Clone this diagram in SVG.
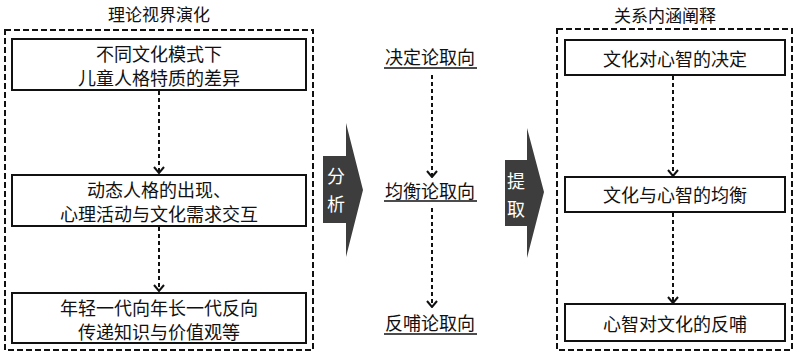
<svg xmlns="http://www.w3.org/2000/svg" width="798" height="355" viewBox="0 0 798 355">
<defs>
<style>
text{font-family:"Noto Sans CJK SC","Noto Sans",sans-serif;font-size:18px;fill:#111;text-anchor:middle;dominant-baseline:central}
text.t{font-size:17px}
.frame{fill:none;stroke:#111;stroke-width:2;stroke-dasharray:6 3}
.box{fill:#fff;stroke:#111;stroke-width:2}
.link{fill:none;stroke:#111;stroke-width:2;stroke-dasharray:4 3;marker-end:url(#chev)}
.uline{stroke:#111;stroke-width:1.5}
.big{fill:#3d3d3d}
text.w{fill:#fff}
</style>
<marker id="chev" viewBox="0 0 8 12" refX="7" refY="6" markerWidth="8" markerHeight="12" markerUnits="userSpaceOnUse" orient="auto">
<path d="M1,1 L7,6 L1,11" fill="none" stroke="#111" stroke-width="2" stroke-dasharray="none"/>
</marker>
</defs>
<rect width="798" height="355" fill="#fff"/>

<g id="left-panel">
<text class="t" x="159" y="13">理论视界演化</text>
<rect class="frame" x="5" y="30" width="308" height="320"/>
</g>
<g id="node-l1">
<rect class="box" x="12" y="39" width="294" height="51"/>
<text x="159" y="53">不同文化模式下</text>
<text x="159" y="77">儿童人格特质的差异</text>
</g>
<g id="node-l2">
<rect class="box" x="12" y="175" width="294" height="51"/>
<text x="159" y="189">动态人格的出现、</text>
<text x="159" y="213">心理活动与文化需求交互</text>
</g>
<g id="node-l3">
<rect class="box" x="12" y="293" width="294" height="50"/>
<text x="159" y="307">年轻一代向年长一代反向</text>
<text x="159" y="331">传递知识与价值观等</text>
</g>

<g id="arrow-analyze">
<path class="big" d="M323,156 H346 V123 L363,190 L346,257 V223 H323 Z"/>
<text class="w" x="336" y="175">分</text>
<text class="w" x="336" y="203">析</text>
</g>

<g id="node-m1">
<text x="430" y="56">决定论取向</text>
<line class="uline" x1="384" y1="68" x2="477" y2="68"/>
</g>
<g id="node-m2">
<text x="430" y="190">均衡论取向</text>
<line class="uline" x1="384" y1="201" x2="477" y2="201"/>
</g>
<g id="node-m3">
<text x="430" y="322">反哺论取向</text>
<line class="uline" x1="384" y1="334" x2="477" y2="334"/>
</g>

<g id="arrow-extract">
<path class="big" d="M505,160 H527 V128 L544,192 L527,258 V226 H505 Z"/>
<text class="w" x="516" y="180">提</text>
<text class="w" x="516" y="208">取</text>
</g>

<g id="right-panel">
<text class="t" x="665" y="14">关系内涵阐释</text>
<rect class="frame" x="557" y="29" width="235" height="321"/>
</g>
<g id="node-r1">
<rect class="box" x="565" y="40" width="220" height="35"/>
<text x="675" y="58">文化对心智的决定</text>
</g>
<g id="node-r2">
<rect class="box" x="565" y="177" width="220" height="35"/>
<text x="675" y="194">文化与心智的均衡</text>
</g>
<g id="node-r3">
<rect class="box" x="565" y="304" width="220" height="37"/>
<text x="675" y="323">心智对文化的反哺</text>
</g>

<g id="connectors">
<line class="link" x1="159" y1="91" x2="159" y2="173"/>
<line class="link" x1="159" y1="227" x2="159" y2="291"/>
<line class="link" x1="432" y1="75" x2="432" y2="177"/>
<line class="link" x1="432" y1="208" x2="432" y2="307"/>
<line class="link" x1="673" y1="76" x2="673" y2="176"/>
<line class="link" x1="673" y1="213" x2="673" y2="303"/>
</g>
</svg>
